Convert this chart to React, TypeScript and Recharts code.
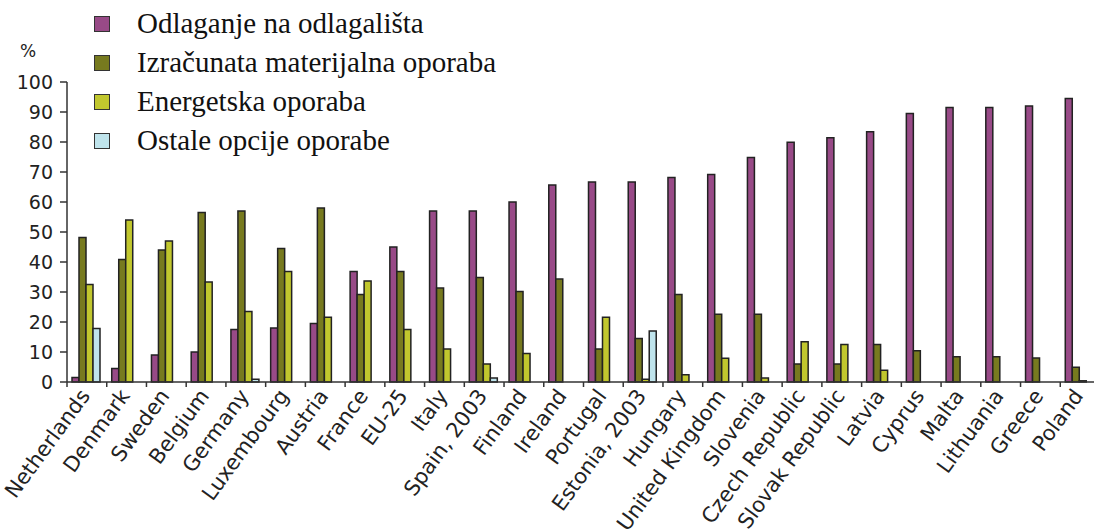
import React from 'react';
import { BarChart, Bar, XAxis, YAxis } from 'recharts';

const countries = [
  'Netherlands', 'Denmark', 'Sweden', 'Belgium', 'Germany', 'Luxembourg', 'Austria', 'France',
  'EU-25', 'Italy', 'Spain, 2003', 'Finland', 'Ireland', 'Portugal', 'Estonia, 2003', 'Hungary',
  'United Kingdom', 'Slovenia', 'Czech Republic', 'Slovak Republic', 'Latvia', 'Cyprus', 'Malta',
  'Lithuania', 'Greece', 'Poland',
];

const landfill = [1.5, 4.5, 9, 10, 17.5, 18, 19.5, 36.8, 45, 57, 57, 60, 65.7, 66.7, 66.7, 68.2, 69.2, 74.8, 79.9, 81.4, 83.4, 89.5, 91.5, 91.5, 92, 94.5];
const material = [48.2, 40.8, 44, 56.5, 57, 44.5, 58, 29.2, 36.8, 31.3, 34.8, 30.2, 34.3, 11, 14.5, 29.2, 22.6, 22.6, 6, 6, 12.5, 10.4, 8.4, 8.4, 8, 4.9];
const energy = [32.5, 54, 47, 33.3, 23.5, 36.8, 21.6, 33.7, 17.5, 11, 6, 9.5, 0, 21.6, 0.9, 2.4, 7.9, 1.3, 13.4, 12.5, 3.9, 0, 0, 0, 0, 0.4];
const other = [17.8, 0, 0, 0, 0.9, 0, 0, 0, 0, 0, 1.3, 0, 0, 0, 17, 0, 0, 0, 0, 0, 0, 0, 0, 0, 0, 0];

const yTicks = [0, 10, 20, 30, 40, 50, 60, 70, 80, 90, 100];

const series = [
  { key: 'landfill', name: 'Odlaganje na odlagališta', color: '#984a87' },
  { key: 'material', name: 'Izračunata materijalna oporaba', color: '#777a1f' },
  { key: 'energy', name: 'Energetska oporaba', color: '#c1c72e' },
  { key: 'other', name: 'Ostale opcije oporabe', color: '#bfe4ec' },
];

const data = countries.map((country, i) => ({
  country,
  landfill: landfill[i],
  material: material[i],
  energy: energy[i],
  other: other[i],
}));

const CHART_W = 1100;
const PLOT_LEFT = 67;
const HALF_BAND = (CHART_W - PLOT_LEFT) / countries.length / 2;

const CountryTick = (props: any) => {
  const { x, y, payload } = props;
  const half = payload && payload.offset ? payload.offset : HALF_BAND;
  return (
    <g>
      <line x1={x - half} y1={y} x2={x - half} y2={y + 5} stroke="#333" strokeWidth={1.5} />
      <text
        transform={`translate(${x + 4},${y + 14}) rotate(-54)`}
        textAnchor="end"
        fontSize={21}
        fontFamily="'DejaVu Sans', Verdana, sans-serif"
        fill="#222"
      >
        {payload.value}
      </text>
    </g>
  );
};

export default function App() {
  return (
    <div style={{ position: 'fixed', left: 0, top: 0, width: 1094, height: 530, overflow: 'hidden', background: '#fff' }}>
      <BarChart
        width={CHART_W}
        height={530}
        data={data}
        margin={{ top: 82, right: 0, bottom: 0, left: 0 }}
        barCategoryGap={5}
        barGap={0}
      >
        <XAxis
          dataKey="country"
          interval={0}
          height={148}
          tickLine={false}
          tickSize={0}
          tickMargin={0}
          axisLine={{ stroke: '#333', strokeWidth: 1.5 }}
          tick={<CountryTick />}
        />
        <YAxis
          width={PLOT_LEFT}
          domain={[0, 100]}
          ticks={yTicks}
          interval={0}
          tickSize={7}
          tickMargin={7}
          axisLine={{ stroke: '#333', strokeWidth: 1.5 }}
          tickLine={{ stroke: '#333', strokeWidth: 1.5 }}
          tick={{ fontSize: 19, fill: '#222', fontFamily: "'DejaVu Sans', Verdana, sans-serif" }}
        />
        {series.map((s) => (
          <Bar
            key={s.key}
            dataKey={s.key}
            name={s.name}
            fill={s.color}
            stroke="#222"
            strokeWidth={1.5}
            isAnimationActive={false}
          />
        ))}
      </BarChart>
      <div
        style={{
          position: 'absolute',
          left: 20,
          top: 41,
          fontSize: 17,
          fontFamily: "'DejaVu Sans', Verdana, sans-serif",
          color: '#222',
        }}
      >
        %
      </div>
      <div style={{ position: 'absolute', left: 94, top: 4 }}>
        {series.map((s) => (
          <div key={s.key} style={{ display: 'flex', alignItems: 'center', height: 39 }}>
            <span
              style={{
                display: 'inline-block',
                width: 14,
                height: 14,
                background: s.color,
                border: '1.5px solid #333',
                marginRight: 27,
              }}
            />
            <span style={{ fontFamily: "'Liberation Serif', 'Times New Roman', serif", fontSize: 29, color: '#111' }}>
              {s.name}
            </span>
          </div>
        ))}
      </div>
    </div>
  );
}
